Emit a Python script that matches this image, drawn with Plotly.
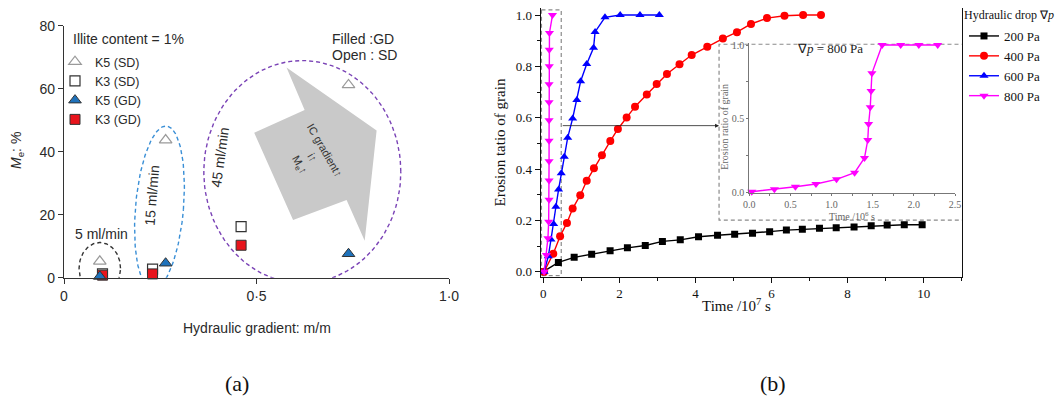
import numpy as np
import plotly.graph_objects as go

# target window and page offset (default body margin of the html page)
WIN_W, WIN_H = 1063, 401
OFF = 8
FW, FH = WIN_W - OFF, WIN_H - OFF

# ---------------- data: panel (a) ----------------
grad_K5 = [0.093, 0.264, 0.739]
grad_K3 = [0.100, 0.230, 0.460]
me_K5_SD = [5.2, 43.7, 61.2]
me_K3_SD = [1.2, 2.7, 16.2]
me_K5_GD = [0.4, 4.6, 7.6]
me_K3_GD = [0.8, 1.2, 10.3]

# grey "arrow" polygon (annotation geometry, data units)
arrow_x = [0.578, 0.812, 0.781, 0.734, 0.595, 0.494, 0.625, 0.578]
arrow_y = [66.7, 46.7, 11.7, 24.7, 18.3, 46.0, 53.2, 66.7]

# ---------------- data: panel (b) ----------------
t_200 = [0.0, 0.395, 0.81, 1.27, 1.755, 2.21, 2.68, 3.13, 3.6, 4.08, 4.58, 5.03, 5.5,
         5.95, 6.39, 6.81, 7.26, 7.70, 8.17, 8.62, 9.04, 9.49, 9.96]
e_200 = [0.0, 0.036, 0.056, 0.068, 0.082, 0.093, 0.102, 0.118, 0.124, 0.136, 0.142, 0.146,
         0.150, 0.156, 0.162, 0.165, 0.169, 0.171, 0.174, 0.179, 0.182, 0.183, 0.183]
t_400 = [0.02, 0.26, 0.44, 0.62, 0.77, 0.97, 1.14, 1.33, 1.54, 1.76, 1.96, 2.19, 2.41, 2.72,
         2.98, 3.25, 3.58, 3.9, 4.31, 4.72, 5.09, 5.46, 5.88, 6.34, 6.83, 7.30]
e_400 = [0.0, 0.07, 0.138, 0.19, 0.246, 0.298, 0.354, 0.403, 0.454, 0.509, 0.556, 0.601,
         0.643, 0.69, 0.731, 0.77, 0.808, 0.844, 0.876, 0.908, 0.933, 0.965, 0.988, 0.997,
         1.0, 1.0]
t_600 = [0.02, 0.13, 0.2, 0.27, 0.33, 0.4, 0.47, 0.55, 0.64, 0.77, 0.88, 0.98, 1.14, 1.32,
         1.36, 1.62, 2.02, 2.54, 3.05]
e_600 = [0.0, 0.06, 0.125, 0.186, 0.253, 0.32, 0.384, 0.448, 0.522, 0.597, 0.669, 0.742,
         0.809, 0.872, 0.934, 0.991, 1.0, 1.0, 1.0]
t_800 = [0.02, 0.08, 0.12, 0.14, 0.15, 0.15, 0.15, 0.15, 0.15, 0.15, 0.15, 0.155, 0.155,
         0.16, 0.24]
e_800 = [0.0, 0.065, 0.13, 0.195, 0.28, 0.355, 0.43, 0.51, 0.59, 0.66, 0.73, 0.80, 0.865,
         0.93, 1.0]

# inset: 800 Pa, time in 10^6 s
t_ins = [0.03, 0.305, 0.56, 0.81, 1.06, 1.28, 1.40, 1.44, 1.45, 1.47, 1.48, 1.49, 1.615,
         1.84, 2.06, 2.29]
e_ins = [0.004, 0.02, 0.038, 0.056, 0.088, 0.133, 0.233, 0.355, 0.464, 0.577, 0.688,
         0.808, 1.0, 1.0, 1.0, 1.0]

# ---------------- layout geometry (window pixels) ----------------
A_X = (64.0, 449.0)
A_Y = (277.7, 25.7)
A_XR = (0.0, 1.0)
A_YR = (0.0, 80.0)
B_X = (540.7, 961.7)
B_Y = (276.7, 8.0)
B_XR = (-0.07, 11.0)
B_YR = (-0.0195, 1.0273)
I_X = (749.3, 955.0)
I_Y = (193.3, 43.3)
I_XR = (0.0, 2.5)
I_YR = (-0.007, 1.012)


def px(x):
    return (x - OFF) / FW


def py(y):
    return 1 - (y - OFF) / FH


def dom_x(p):
    return [px(p[0]), px(p[1])]


def dom_y(p):
    return [py(p[0]), py(p[1])]


ax_ppu = (A_X[1] - A_X[0]) / (A_XR[1] - A_XR[0])
ay_ppu = (A_Y[0] - A_Y[1]) / (A_YR[1] - A_YR[0])


def ellipse(cx, cy, a_px, b_px, tilt_deg, n=120):
    t = np.linspace(0, 2 * np.pi, n)
    u = a_px * np.cos(t)
    v = b_px * np.sin(t)
    ph = np.deg2rad(tilt_deg)
    X = u * np.cos(ph) - v * np.sin(ph)
    Y = u * np.sin(ph) + v * np.cos(ph)
    return cx + X / ax_ppu, cy + Y / ay_ppu


SANS = "Liberation Sans, Arial, sans-serif"
SERIF = "Liberation Serif, Times New Roman, serif"
TXT = "#2a2a2a"

fig = go.Figure()

# ---- panel (a) decorations ----
fig.add_trace(go.Scatter(x=arrow_x, y=arrow_y, fill="toself", fillcolor="#c9c9c9",
                         line=dict(width=0, color="#c9c9c9"), mode="lines",
                         showlegend=False, hoverinfo="skip", xaxis="x", yaxis="y"))
for (cx, cy, a, b, tilt, col) in [(0.093, 3.0, 20.7, 25.7, 0, "#333333"),
                                   (0.248, 22.2, 24.0, 82.0, -4.9, "#3a8fd6"),
                                   (0.619, 33.6, 98.5, 111.3, 0, "#7a43b6")]:
    ex, ey = ellipse(cx, cy, a, b, tilt)
    fig.add_trace(go.Scatter(x=ex, y=ey, mode="lines",
                             line=dict(color=col, width=1.4, dash="4px,3px"),
                             cliponaxis=False, showlegend=False, hoverinfo="skip",
                             xaxis="x", yaxis="y"))

# ---- panel (a) markers ----
fig.add_trace(go.Scatter(x=grad_K5, y=me_K5_SD, mode="markers", name="K5 (SD)",
                         marker=dict(symbol="triangle-up", size=11, color="white",
                                     line=dict(color="#9a9a9a", width=1.2)),
                         cliponaxis=False, legend="legend", legendrank=1,
                         xaxis="x", yaxis="y"))
fig.add_trace(go.Scatter(x=grad_K3, y=me_K3_SD, mode="markers", name="K3 (SD)",
                         marker=dict(symbol="square", size=10, color="white",
                                     line=dict(color="#333333", width=1.2)),
                         cliponaxis=False, legend="legend", legendrank=2,
                         xaxis="x", yaxis="y"))
fig.add_trace(go.Scatter(x=grad_K3, y=me_K3_GD, mode="markers", name="K3 (GD)",
                         marker=dict(symbol="square", size=10, color="#e8141c",
                                     line=dict(color="#333333", width=1)),
                         cliponaxis=False, legend="legend", legendrank=4,
                         xaxis="x", yaxis="y"))
fig.add_trace(go.Scatter(x=grad_K5, y=me_K5_GD, mode="markers", name="K5 (GD)",
                         marker=dict(symbol="triangle-up", size=11, color="#1f72bb",
                                     line=dict(color="#333333", width=1)),
                         cliponaxis=False, legend="legend", legendrank=3,
                         xaxis="x", yaxis="y"))

# ---- panel (b) decorations ----
rect_small_x = [-0.05, 0.47, 0.47, -0.05, -0.05]
rect_small_y = [1.02, 1.02, -0.015, -0.015, 1.02]
rect_inset_x = [11.1, 4.62, 4.62, 11.1]
rect_inset_y = [0.886, 0.886, 0.201, 0.201]
for rx, ry in [(rect_small_x, rect_small_y), (rect_inset_x, rect_inset_y)]:
    fig.add_trace(go.Scatter(x=rx, y=ry, mode="lines",
                             line=dict(color="#8a8a8a", width=1.2, dash="4px,3px"),
                             cliponaxis=False, showlegend=False, hoverinfo="skip",
                             xaxis="x2", yaxis="y2"))

# ---- panel (b) series ----
series = [("200 Pa", t_200, e_200, "#000000", "square", 7),
          ("400 Pa", t_400, e_400, "#ff0000", "circle", 8),
          ("600 Pa", t_600, e_600, "#0000ff", "triangle-up", 8),
          ("800 Pa", t_800, e_800, "#ff00ff", "triangle-down", 8)]
for name, tx, ey, col, sym, sz in series:
    fig.add_trace(go.Scatter(x=tx, y=ey, mode="lines+markers", name=name,
                             line=dict(color=col, width=1.4),
                             marker=dict(symbol=sym, size=sz, color=col),
                             legend="legend2", xaxis="x2", yaxis="y2"))

# ---- inset ----
fig.add_trace(go.Scatter(x=t_ins, y=e_ins, mode="lines+markers", showlegend=False,
                         line=dict(color="#ff00ff", width=1.4),
                         marker=dict(symbol="triangle-down", size=8, color="#ff00ff"),
                         cliponaxis=False, xaxis="x3", yaxis="y3"))

ann = []


def txt(text, x, y, size, font=SANS, color=TXT, xref="paper", yref="paper",
        xanchor="center", yanchor="middle", angle=0):
    ann.append(dict(text=text, x=x, y=y, xref=xref, yref=yref, showarrow=False,
                    xanchor=xanchor, yanchor=yanchor, textangle=angle,
                    font=dict(family=font, size=size, color=color)))


# panel (a) texts
txt("Illite content = 1%", px(70.7), py(39.3), 14, xanchor="left")
txt("Filled :GD", px(330), py(39.3), 14, xanchor="left")
txt("Open : SD", px(330), py(54.5), 14, xanchor="left")
txt("5 ml/min", 0.097, 13.8, 14, xref="x", yref="y")
txt("15 ml/min", 0.228, 26.3, 14, xref="x", yref="y", angle=-85.5)
txt("45 ml/min", 0.406, 38.2, 14, xref="x", yref="y", angle=-82)
txt("IC gradient↑<br>i↑<br>M<sub>e</sub>↑", 0.644, 38.0, 11, xref="x", yref="y",
    angle=60, color="#333333")
txt("Hydraulic gradient: m/m", px(257), py(328), 14)
txt("<i>M</i><sub>e</sub>: %", px(17), py(151), 14, angle=-90)
txt("(a)", px(237), py(383), 22, font=SERIF, color="#111111")

# panel (b) texts
txt("Erosion tatio of grain", px(499), py(142.5), 15, font=SERIF, color="#111111",
    angle=-90)
txt("Time /10<sup>7</sup> s", px(736), py(305), 15, font=SERIF, color="#111111")
txt("(b)", px(773), py(383), 22, font=SERIF, color="#111111")
txt("∇<i>p</i> = 800 Pa", px(830), py(48.3), 13, font=SERIF, color="#222222")
txt("Erosion ratio of grain", px(725), py(126.7), 10, font=SERIF, color="#666666",
    angle=-90)
txt("Time /10<sup>6</sup> s", px(851.7), py(215.5), 10, font=SERIF, color="#666666")
txt("Hydraulic drop ∇<i>p</i>", px(962), py(15), 12, font=SERIF, color="#111111",
    xanchor="left")

ann.append(dict(x=4.62, y=0.569, ax=0.47, ay=0.569, xref="x2", yref="y2",
                axref="x2", ayref="y2", showarrow=True, arrowhead=2, arrowsize=1,
                arrowwidth=0.8, arrowcolor="#222222", text=""))

axis_a = dict(showline=True, linecolor="#333333", linewidth=1.3, ticks="outside",
              ticklen=5, tickcolor="#333333", showgrid=False, zeroline=False,
              tickfont=dict(family=SANS, size=14, color=TXT))
axis_b = dict(showline=True, linecolor="#111111", linewidth=1.2, ticks="outside",
              ticklen=5, tickcolor="#111111", showgrid=False, zeroline=False,
              mirror=True, ticklabeloverflow="allow",
              tickfont=dict(family=SERIF, size=13, color="#111111"))
axis_i = dict(showline=True, linecolor="#777777", linewidth=1.1, ticks="outside",
              ticklen=2, tickcolor="#777777", showgrid=False, zeroline=False,
              tickfont=dict(family=SERIF, size=10, color="#666666"))

fig.update_layout(
    width=FW, height=FH, margin=dict(l=0, r=0, t=0, b=0, autoexpand=False),
    paper_bgcolor="white", plot_bgcolor="rgba(0,0,0,0)",
    xaxis=dict(axis_a, domain=dom_x(A_X), range=list(A_XR), anchor="y",
               tickvals=[0, 0.5, 1.0], ticktext=["0", "0·5", "1·0"]),
    yaxis=dict(axis_a, domain=dom_y(A_Y), range=list(A_YR), anchor="x",
               tickvals=[0, 20, 40, 60, 80]),
    xaxis2=dict(axis_b, domain=dom_x(B_X), range=list(B_XR), anchor="y2",
                dtick=2, tick0=0,
                minor=dict(dtick=1, tick0=0, ticks="outside", ticklen=3,
                           tickcolor="#111111")),
    yaxis2=dict(axis_b, domain=dom_y(B_Y), range=list(B_YR), anchor="x2",
                dtick=0.2, tick0=0, tickformat=".1f",
                minor=dict(dtick=0.1, tick0=0, ticks="outside", ticklen=3,
                           tickcolor="#111111")),
    xaxis3=dict(axis_i, domain=dom_x(I_X), range=list(I_XR), anchor="y3",
                dtick=0.5, tick0=0, tickformat=".1f",
                minor=dict(dtick=0.25, tick0=0, ticks="outside", ticklen=2,
                           tickcolor="#777777")),
    yaxis3=dict(axis_i, domain=dom_y(I_Y), range=list(I_YR), anchor="x3",
                dtick=0.5, tick0=0, tickformat=".1f",
                minor=dict(dtick=0.25, tick0=0, ticks="outside", ticklen=2,
                           tickcolor="#777777")),
    legend=dict(x=px(55), y=py(47), xanchor="left", yanchor="top",
                bgcolor="rgba(0,0,0,0)", font=dict(family=SANS, size=12.5, color=TXT),
                tracegroupgap=0),
    legend2=dict(x=px(964), y=py(21), xanchor="left", yanchor="top",
                 bgcolor="rgba(0,0,0,0)",
                 font=dict(family=SERIF, size=13, color="#111111")),
    annotations=ann,
    showlegend=True,
)

fig.write_html("out.html")
